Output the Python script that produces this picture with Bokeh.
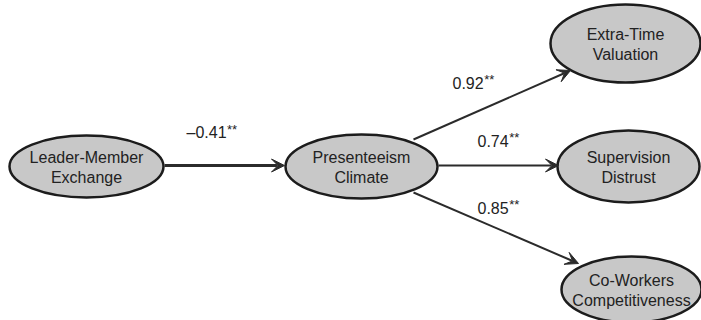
from bokeh.plotting import figure
from bokeh.models import Range1d, Arrow, VeeHead, ColumnDataSource
from bokeh.core.properties import value
from bokeh.embed import file_html
from bokeh.resources import INLINE

# ---- data ----
node_names = ["lmx", "pc", "etv", "sd", "cwc"]
node_line1 = ["Leader-Member", "Presenteeism", "Extra-Time", "Supervision", "Co-Workers"]
node_line2 = ["Exchange", "Climate", "Valuation", "Distrust", "Competitiveness"]
edge_from = ["lmx", "pc", "pc", "pc"]
edge_to = ["pc", "etv", "sd", "cwc"]
edge_coef = ["\u20130.41", "0.92", "0.74", "0.85"]
edge_sig = ["**", "**", "**", "**"]

# ---- layout (pixel space of the diagram) ----
node_pos = {"lmx": (86, 166), "pc": (361, 166), "etv": (625, 43), "sd": (628, 166), "cwc": (631, 289)}
node_size = {"lmx": (154, 62), "pc": (152, 64), "etv": (150, 78), "sd": (142, 72), "cwc": (140, 66)}
edge_pts = {
    ("lmx", "pc"): ((164, 165), (284, 165)),
    ("pc", "etv"): ((413, 139), (570, 70)),
    ("pc", "sd"): ((438, 165), (558, 165)),
    ("pc", "cwc"): ((413, 192), (578, 263)),
}
label_pos = {("lmx", "pc"): (186, 132), ("pc", "etv"): (452, 82), ("pc", "sd"): (477, 140), ("pc", "cwc"): (477, 207)}
edge_width = {("lmx", "pc"): 3}

FONT = "Liberation Sans"
W, H = 701, 320
p = figure(width=W, height=H, output_backend="svg", toolbar_location=None,
           x_range=Range1d(0, W), y_range=Range1d(H, 0), min_border=0)
p.axis.visible = False
p.grid.visible = False
p.outline_line_color = None
p.background_fill_color = "white"

# arrows
for (a, b) in zip(edge_from, edge_to):
    (x0, y0), (x1, y1) = edge_pts[(a, b)]
    lw = edge_width.get((a, b), 2)
    p.add_layout(Arrow(x_start=x0, y_start=y0, x_end=x1, y_end=y1,
                       line_color="#2b2b2b", line_width=lw,
                       end=VeeHead(size=13, fill_color="#2b2b2b", line_color="#2b2b2b", line_width=1)))

# ellipses
src = ColumnDataSource(dict(
    x=[node_pos[n][0] for n in node_names],
    y=[node_pos[n][1] for n in node_names],
    w=[node_size[n][0] for n in node_names],
    h=[node_size[n][1] for n in node_names],
    t1=node_line1, t2=node_line2,
    y1=[node_pos[n][1] - 9 for n in node_names],
    y2=[node_pos[n][1] + 11 for n in node_names],
))
p.ellipse(x="x", y="y", width="w", height="h", source=src,
          fill_color="#c8c8c8", line_color="#1c1c1c", line_width=2.5)
p.text(x="x", y="y1", text="t1", source=src, text_align="center", text_baseline="middle",
       text_font=value(FONT), text_font_size="16px", text_color="#222222")
p.text(x="x", y="y2", text="t2", source=src, text_align="center", text_baseline="middle",
       text_font=value(FONT), text_font_size="16px", text_color="#222222")

# coefficient labels
cw = {"0": .556, "1": .556, "2": .556, "3": .556, "4": .556, "5": .556, "6": .556, "7": .556,
      "8": .556, "9": .556, ".": .278, "\u2013": .556}
for (a, b), c, s in zip(zip(edge_from, edge_to), edge_coef, edge_sig):
    lx, ly = label_pos[(a, b)]
    wnum = sum(cw.get(ch, .556) for ch in c) * 16
    p.text(x=[lx], y=[ly], text=[c], text_align="left", text_baseline="middle",
           text_font=value(FONT), text_font_size="16px", text_color="#222222")
    p.text(x=[lx + wnum + 0.5], y=[ly - 3], text=[s], text_align="left", text_baseline="middle",
           text_font=value(FONT), text_font_size="13px", text_color="#222222")

open("out.html", "w").write(file_html(p, INLINE))
